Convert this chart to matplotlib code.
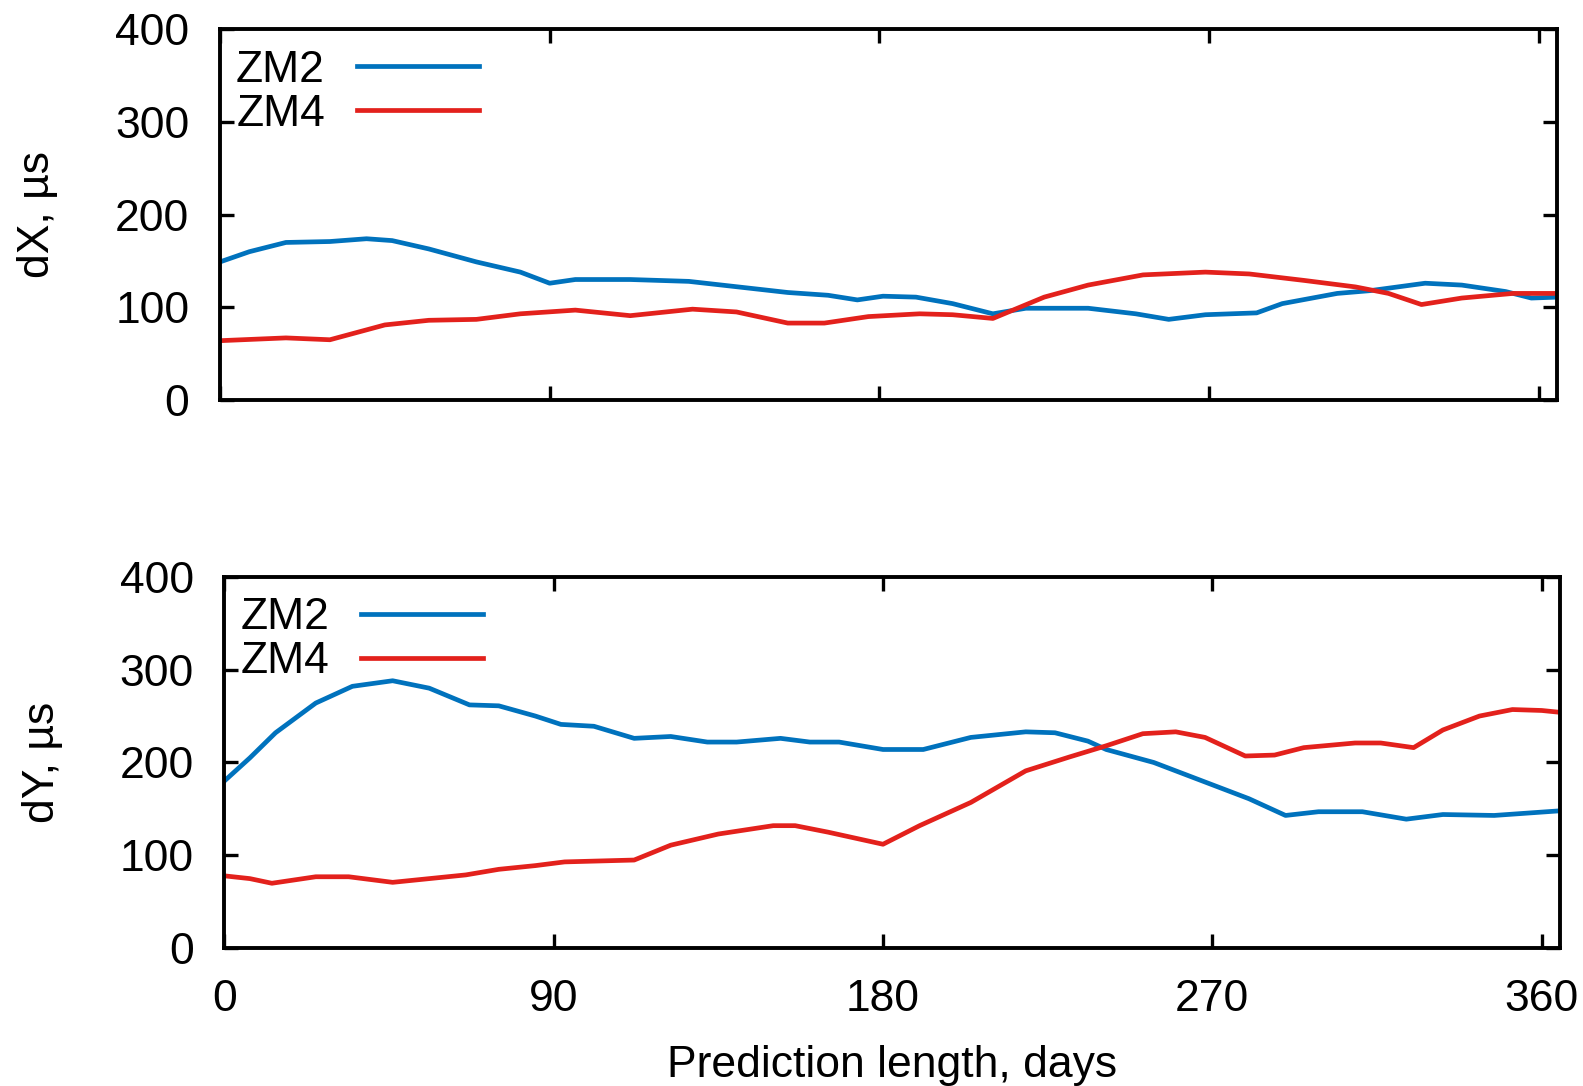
import matplotlib
matplotlib.use("Agg")
import matplotlib.pyplot as plt

plt.rcParams['font.family'] = ['Liberation Sans', 'DejaVu Sans']

# ---- data ----
dx_zm2_days = [0, 8, 18, 30, 40, 47, 57, 70, 82, 90, 97, 112, 128, 137, 155, 166, 174, 181,
               190, 200, 211, 220, 237, 250, 259, 269, 283, 290, 305, 314, 329, 339, 351, 358, 365]
dx_zm2 = [149, 160, 170, 171, 174, 172, 163, 149, 138, 126, 130, 130, 128, 124, 116, 113, 108, 112,
          111, 104, 93, 99, 99, 93, 87, 92, 94, 104, 115, 118, 126, 124, 117, 110, 111]

dx_zm4_days = [0, 18, 30, 45, 57, 70, 82, 97, 112, 129, 141, 155, 165, 177, 191, 200, 211, 225,
               237, 252, 269, 281, 296, 310, 319, 328, 339, 353, 365]
dx_zm4 = [64, 67, 65, 81, 86, 87, 93, 97, 91, 98, 95, 83, 83, 90, 93, 92, 88, 111,
          124, 135, 138, 136, 129, 122, 115, 103, 110, 115, 115]

dy_zm2_days = [0, 7, 14, 25, 35, 46, 56, 67, 75, 85, 92, 101, 112, 122, 132, 140, 152, 160, 168,
               180, 191, 204, 219, 227, 236, 241, 254, 270, 280, 290, 299, 311, 323, 333, 347, 365]
dy_zm2 = [180, 205, 232, 264, 282, 288, 280, 262, 261, 250, 241, 239, 226, 228, 222, 222, 226, 222, 222,
          214, 214, 227, 233, 232, 223, 214, 200, 176, 161, 143, 147, 147, 139, 144, 143, 148]

dy_zm4_days = [0, 7, 13, 25, 34, 46, 56, 66, 75, 85, 93, 112, 122, 135, 150, 156, 165, 180, 190,
               204, 219, 231, 241, 251, 260, 268, 279, 287, 295, 309, 316, 325, 333, 343, 352, 360, 365]
dy_zm4 = [78, 75, 70, 77, 77, 71, 75, 79, 85, 89, 93, 95, 111, 123, 132, 132, 125, 112, 132,
          157, 191, 206, 218, 231, 233, 227, 207, 208, 216, 221, 221, 216, 235, 250, 257, 256, 254]

x_ticks = [0, 90, 180, 270, 360]
y_ticks = [0, 100, 200, 300, 400]
series_labels = ["ZM2", "ZM4"]
colors = ["#0072bd", "#e3211c"]

FS = 32

fig = plt.figure(figsize=(15.83, 10.86), dpi=100)
ax1 = fig.add_axes([0.13898, 0.63168, 0.84460, 0.34134])
ax2 = fig.add_axes([0.14169, 0.12680, 0.84378, 0.34217])

panels = [
    (ax1, dx_zm2_days, dx_zm2, dx_zm4_days, dx_zm4, "dX, µs"),
    (ax2, dy_zm2_days, dy_zm2, dy_zm4_days, dy_zm4, "dY, µs"),
]

for ax, d2, v2, d4, v4, ylab in panels:
    ax.plot(d2, v2, color=colors[0], lw=3.4, label=series_labels[0])
    ax.plot(d4, v4, color=colors[1], lw=3.4, label=series_labels[1])
    ax.set_xlim(0, 365)
    ax.set_ylim(0, 400)
    ax.set_xticks(x_ticks)
    ax.set_yticks(y_ticks)
    ax.tick_params(direction='in', length=10, width=2.4, labelsize=FS, pad=22,
                   top=True, right=True)
    for s in ax.spines.values():
        s.set_linewidth(2.8)
    ax.set_ylabel(ylab, fontsize=FS)
    ax.yaxis.set_label_coords(-0.121, 0.5)
    leg = ax.legend(loc='upper left', bbox_to_anchor=(0.012, 0.945), frameon=False,
                    fontsize=FS, markerfirst=False, handlelength=2.75, handletextpad=0.72,
                    labelspacing=0.07, borderpad=0, borderaxespad=0)

ax1.tick_params(labelbottom=False)
ax2.set_xlabel("Prediction length, days", fontsize=FS)
ax2.xaxis.set_label_coords(0.5, -0.26)

fig.savefig("out.png", dpi=100)
